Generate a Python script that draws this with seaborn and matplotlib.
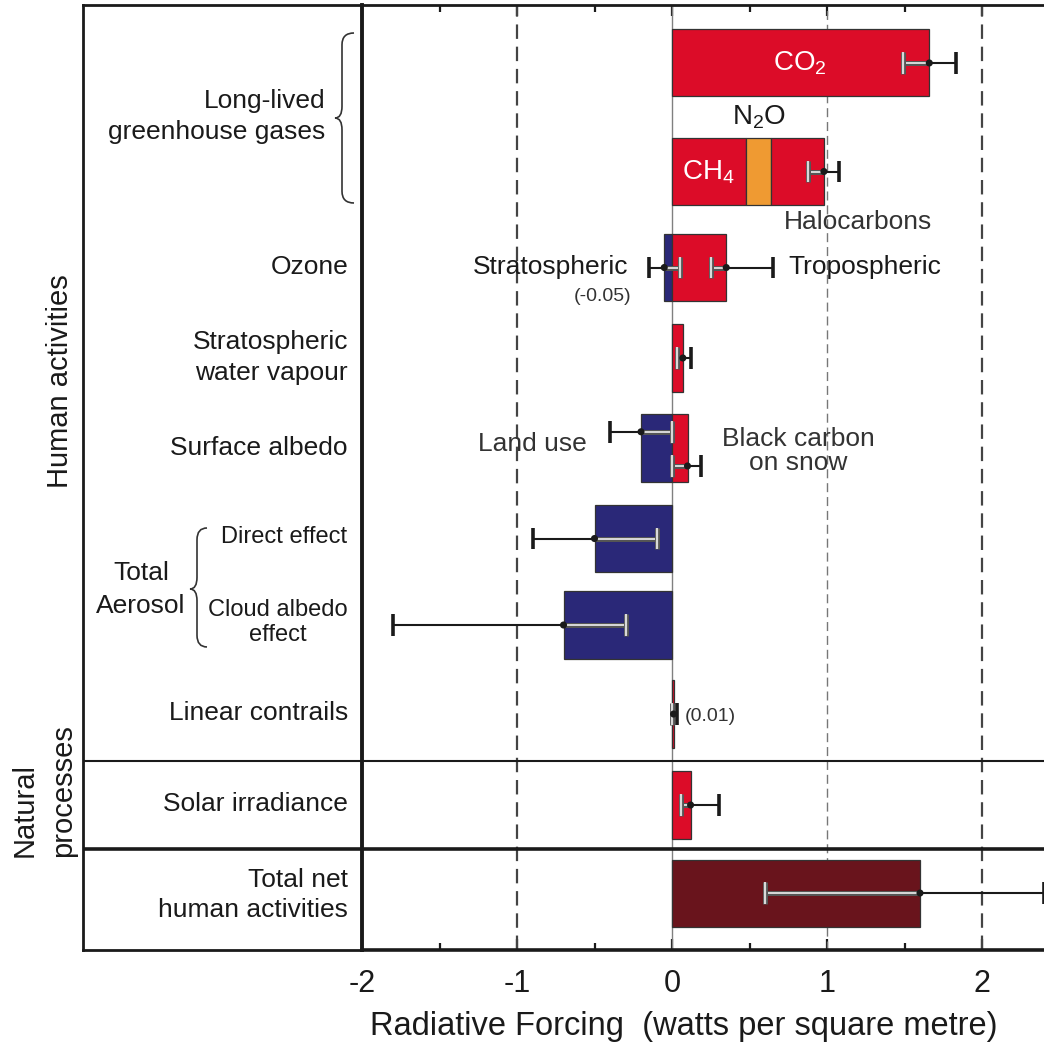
import numpy as np
import pandas as pd
import seaborn as sns
import matplotlib.pyplot as plt
import matplotlib.patheffects as pe
from matplotlib.path import Path
from matplotlib.patches import PathPatch

# ---- data (W m-2) ----
seg_names = ['CO2', 'CH4', 'N2O', 'Halocarbons', 'Stratospheric ozone', 'Tropospheric ozone',
             'Stratospheric water vapour', 'Land use', 'Black carbon on snow',
             'Aerosol direct effect', 'Cloud albedo effect', 'Linear contrails',
             'Solar irradiance', 'Total net human activities']
seg_rows = ['co2', 'llghg', 'llghg', 'llghg', 'ozone', 'ozone', 'water', 'albedo', 'albedo',
            'direct', 'cloud', 'contrails', 'solar', 'total']
seg_values = [1.66, 0.48, 0.16, 0.34, -0.05, 0.35, 0.07, -0.20, 0.10, -0.50, -0.70, 0.01, 0.12, 1.60]
seg_kind = ['warm', 'warm', 'n2o', 'warm', 'cool', 'warm', 'warm', 'cool', 'warm',
            'cool', 'cool', 'warm', 'warm', 'net']

# uncertainty ranges
err_rows = ['co2', 'llghg', 'ozone', 'ozone', 'water', 'albedo', 'albedo', 'direct', 'cloud',
            'contrails', 'solar', 'total']
err_mid = [1.66, 0.98, -0.05, 0.35, 0.07, -0.20, 0.10, -0.50, -0.70, 0.01, 0.12, 1.60]
err_lo = [1.49, 0.88, -0.15, 0.25, 0.03, -0.40, 0.00, -0.90, -1.80, 0.003, 0.06, 0.60]
err_hi = [1.83, 1.08, 0.05, 0.65, 0.12, 0.00, 0.19, -0.10, -0.30, 0.03, 0.30, 2.40]

# ---- layout ----
row_pos = {'co2': 0.644, 'llghg': 1.85, 'ozone': 2.917, 'water': 3.922, 'albedo': 4.922,
           'direct': 5.928, 'cloud': 6.889, 'contrails': 7.878, 'solar': 8.889, 'total': 9.867}
err_shift = [0, 0, 0, 0, 0, -0.18, 0.2, 0, 0, 0, 0, 0]
bar_h = 0.745
colors = {'warm': '#DC0C28', 'cool': '#2A2878', 'n2o': '#EF9A32', 'net': '#69141C'}
ink = '#1a1a1a'

sns.set_theme(style='white')
plt.rcParams['font.family'] = ['Liberation Sans', 'DejaVu Sans']
plt.rcParams['mathtext.fontset'] = 'custom'
plt.rcParams['mathtext.rm'] = 'Liberation Sans'
plt.rcParams['mathtext.default'] = 'regular'

# stack segments inside each row
seg = pd.DataFrame({'name': seg_names, 'row': seg_rows, 'value': seg_values, 'kind': seg_kind})
seg['y'] = seg['row'].map(row_pos)
lefts = []
pos_acc, neg_acc = {}, {}
for _, r in seg.iterrows():
    if r.value >= 0:
        lefts.append(pos_acc.get(r.row, 0.0))
        pos_acc[r.row] = lefts[-1] + r.value
    else:
        lefts.append(neg_acc.get(r.row, 0.0))
        neg_acc[r.row] = lefts[-1] + r.value
seg['left'] = lefts

err = pd.DataFrame({'row': err_rows, 'mid': err_mid, 'lo': err_lo, 'hi': err_hi})
err['y'] = err['row'].map(row_pos) + np.array(err_shift)

fig = plt.figure(figsize=(10.44, 10.43), dpi=100)
# label column first, so the main axes spine is drawn on top of it
lab = fig.add_axes([83 / 1044, 93 / 1043, 279 / 1044, 945 / 1043])
ax = fig.add_axes([362 / 1044, 93 / 1043, 682 / 1044, 945 / 1043])
lab.patch.set_visible(False)
ax.patch.set_visible(False)

ax.set_xlim(-2, 2.4)
ax.set_ylim(10.5, 0)

# reference lines
ax.axvline(0, color='#808080', lw=1.0, zorder=1)
for xv, lw, c in [(-1, 1.6, '#444444'), (1, 1.0, '#777777'), (2, 1.6, '#444444')]:
    ax.axvline(xv, color=c, lw=lw, dashes=(6.5, 3.5), zorder=1)

# bars
ax.barh(seg['y'], seg['value'], left=seg['left'], height=bar_h,
        color=[colors[k] for k in seg['kind']], edgecolor='#333333', linewidth=0.9, zorder=2)

# uncertainty bars: part inside the bar grey, part outside black
cap = 0.12
grey_fx = [pe.Stroke(linewidth=3.6, foreground='#555555'), pe.Normal()]
for _, r in err.iterrows():
    inner, outer = (r.lo, r.hi) if r.mid >= 0 else (r.hi, r.lo)
    ax.hlines(r.y, inner, r.mid, colors='#d9d9d9', lw=1.4, path_effects=grey_fx, zorder=4)
    ax.vlines(inner, r.y - cap, r.y + cap, colors='#d9d9d9', lw=1.6, path_effects=grey_fx, zorder=4)
    ax.hlines(r.y, r.mid, outer, colors=ink, lw=1.5, zorder=4)
    ax.vlines(outer, r.y - cap, r.y + cap, colors=ink, lw=2.6, zorder=4)
sns.scatterplot(data=err, x='mid', y='y', color=ink, s=26, edgecolor='none', zorder=5,
                ax=ax, legend=False)
ax.set_ylabel('')

# labels inside the plotting area
fs = 19
ax.text(0.826, 0.644, 'CO$_2$', color='white', fontsize=20, ha='center', va='center', zorder=6)
ax.text(0.232, 1.856, 'CH$_4$', color='white', fontsize=20, ha='center', va='center', zorder=6)
ax.text(0.561, 1.244, 'N$_2$O', color=ink, fontsize=20, ha='center', va='center')
ax.text(1.20, 2.411, 'Halocarbons', color='#333333', fontsize=fs, ha='center', va='center')
ax.text(-0.284, 2.911, 'Stratospheric', color=ink, fontsize=fs, ha='right', va='center')
ax.text(-0.445, 3.244, '(-0.05)', color='#333333', fontsize=14, ha='center', va='center')
ax.text(0.748, 2.911, 'Tropospheric', color=ink, fontsize=fs, ha='left', va='center')
ax.text(-0.548, 4.878, 'Land use', color='#333333', fontsize=fs, ha='right', va='center')
ax.text(0.813, 4.822, 'Black carbon', color='#333333', fontsize=fs, ha='center', va='center')
ax.text(0.813, 5.089, 'on snow', color='#333333', fontsize=fs, ha='center', va='center')
ax.text(0.085, 7.911, '(0.01)', color='#333333', fontsize=14, ha='left', va='center')

# axes styling
ax.set_yticks([])
ax.set_xticks([-2, -1, 0, 1, 2])
ax.set_xticks(np.arange(-2, 2.5, 0.5), minor=True)
ax.set_xticklabels(['-2', '-1', '0', '1', '2'], fontsize=22, color=ink)
ax.tick_params(axis='x', which='both', direction='in', top=True, bottom=True,
               color=ink, width=1.6, pad=14)
ax.tick_params(axis='x', which='major', length=8)
ax.tick_params(axis='x', which='minor', length=5)
ax.set_xlabel('Radiative Forcing  (watts per square metre)', fontsize=23.5, color=ink,
              labelpad=8, x=0.472)
for side, lw in [('left', 2.8), ('top', 2.0), ('bottom', 2.6)]:
    ax.spines[side].set_visible(True)
    ax.spines[side].set_color(ink)
    ax.spines[side].set_linewidth(lw)
ax.spines['right'].set_visible(False)

# label column
lab.set_xlim(83, 362)
lab.set_ylim(10.5, 0)
lab.set_xticks([])
lab.set_yticks([])
for side in ['left', 'top', 'bottom']:
    lab.spines[side].set_visible(True)
    lab.spines[side].set_color(ink)
    lab.spines[side].set_linewidth(2.0)
lab.spines['right'].set_visible(False)

for a in (ax, lab):
    a.axhline(8.4, color=ink, lw=1.5, zorder=3)
    a.axhline(9.378, color=ink, lw=2.6, zorder=3)

row_labels = [
    ('Long-lived', 325, 1.067, fs), ('greenhouse gases', 325, 1.411, fs),
    ('Ozone', 348, 2.911, fs),
    ('Stratospheric', 348, 3.744, fs), ('water vapour', 348, 4.089, fs),
    ('Surface albedo', 348, 4.922, fs),
    ('Direct effect', 347, 5.911, 17),
    ('Linear contrails', 348, 7.867, fs),
    ('Solar irradiance', 348, 8.878, fs),
    ('Total net', 348, 9.722, fs), ('human activities', 348, 10.056, fs),
]
for txt, x, y, size in row_labels:
    lab.text(x, y, txt, fontsize=size, ha='right', va='center', color=ink)
lab.text(278, 6.722, 'Cloud albedo', fontsize=17, ha='center', va='center', color=ink)
lab.text(278, 7.0, 'effect', fontsize=17, ha='center', va='center', color=ink)
lab.text(141, 6.311, 'Total', fontsize=fs, ha='center', va='center', color=ink)
lab.text(141, 6.678, 'Aerosol', fontsize=fs, ha='center', va='center', color=ink)


def brace(a, x_end, x_spine, x_tip, y0, ym, y1, r=0.13):
    verts = [(x_end, y0), (x_spine, y0), (x_spine, y0 + r),
             (x_spine, ym - r), (x_spine, ym), (x_tip, ym),
             (x_spine, ym), (x_spine, ym + r),
             (x_spine, y1 - r), (x_spine, y1), (x_end, y1)]
    codes = [Path.MOVETO, Path.CURVE3, Path.CURVE3,
             Path.LINETO, Path.CURVE3, Path.CURVE3,
             Path.CURVE3, Path.CURVE3,
             Path.LINETO, Path.CURVE3, Path.CURVE3]
    a.add_patch(PathPatch(Path(verts, codes), fill=False, edgecolor='#333333', lw=1.2,
                          clip_on=False))


brace(lab, 354, 342, 335, 0.311, 1.256, 2.2)
brace(lab, 207, 197, 190, 5.811, 6.489, 7.133)

# group labels outside the frame
fig.text(60 / 1044, 1 - 381 / 1043, 'Human activities', rotation=90, fontsize=21,
         ha='center', va='center', color=ink)
fig.text(25 / 1044, 1 - 857 / 1043, 'Natural', rotation=90, fontsize=21,
         ha='center', va='bottom', color=ink)
fig.text(63 / 1044, 1 - 857 / 1043, 'processes', rotation=90, fontsize=21,
         ha='center', va='bottom', color=ink)

fig.savefig('out.png', dpi=100)
